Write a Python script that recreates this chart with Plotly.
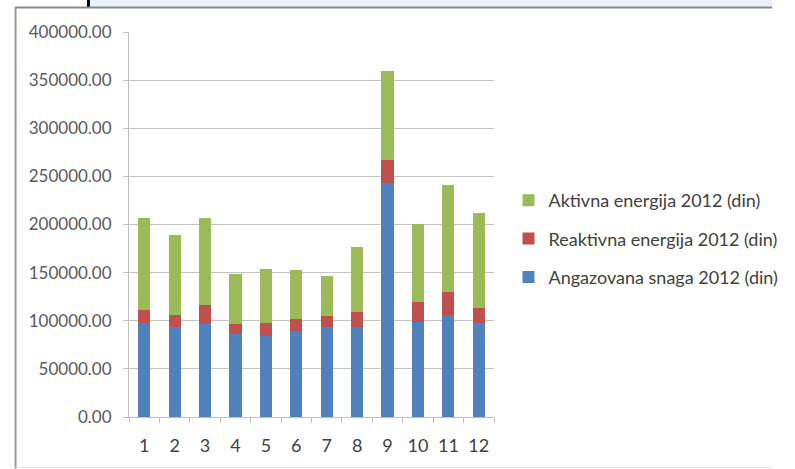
import plotly.graph_objects as go

months = ["1", "2", "3", "4", "5", "6", "7", "8", "9", "10", "11", "12"]
angazovana = [97300, 93000, 97000, 86000, 84000, 89600, 93000, 93800, 243000, 99000, 106000, 97300]
reaktivna = [13700, 12600, 19700, 11000, 14000, 11800, 12000, 15200, 23700, 20000, 23600, 15700]
aktivna = [96000, 83400, 90300, 51600, 55500, 51400, 41000, 67500, 93300, 81700, 111400, 98500]
y_ticks = [0, 50000, 100000, 150000, 200000, 250000, 300000, 350000, 400000]

W, H = 795, 469
L, R, T, B = 129, 288, 32, 52
pw, ph = W - L - R, H - T - B

def px(x):
    return (x - L) / pw

def py(y):
    return (H - B - y) / ph

fig = go.Figure()
series = [
    ("Angazovana snaga 2012 (din)", angazovana, "#4f81bd", 3),
    ("Reaktivna energija 2012 (din)", reaktivna, "#c0504d", 2),
    ("Aktivna energija 2012 (din)", aktivna, "#9bbb59", 1),
]
for name, vals, col, rank in series:
    fig.add_trace(go.Bar(x=months, y=vals, name=name, marker_color=col,
                         marker_line_width=0, legendgroup=name, legendrank=rank))

shapes = [
    dict(type="rect", xref="paper", yref="paper", x0=px(88), x1=px(W), y0=py(0), y1=py(7),
         fillcolor="#eaf2fc", line_width=0, layer="above"),
    dict(type="line", xref="paper", yref="paper", x0=px(87), x1=px(87), y0=py(0), y1=py(8),
         line=dict(color="#000000", width=3), layer="above"),
    dict(type="line", xref="paper", yref="paper", x0=px(11), x1=px(W), y0=py(7.5), y1=py(7.5),
         line=dict(color="#8a8a8a", width=2), layer="above"),
    dict(type="line", xref="paper", yref="paper", x0=px(11.5), x1=px(11.5), y0=py(7), y1=py(H),
         line=dict(color="#9a9a9a", width=2), layer="above"),
    dict(type="line", xref="paper", yref="paper", x0=px(11), x1=px(W), y0=py(467.5), y1=py(467.5),
         line=dict(color="#e6e6e6", width=1), layer="above"),
]

fig.update_layout(
    width=W, height=H,
    margin=dict(l=L, r=R, t=T, b=B),
    barmode="stack",
    bargap=0.6,
    paper_bgcolor="white",
    plot_bgcolor="white",
    font=dict(family="Lato", size=16, color="#595959"),
    shapes=shapes,
    legend=dict(x=px(522), xanchor="left", y=py(239), yanchor="middle",
                traceorder="grouped", tracegroupgap=12,
                font=dict(family="Lato", size=18, color="#404040"),
                bgcolor="rgba(0,0,0,0)"),
    xaxis=dict(type="category", showgrid=False, showline=True, linecolor="#bfbfbf",
               linewidth=1, ticks="outside", tickson="boundaries", ticklen=5,
               tickcolor="#bfbfbf", ticklabelstandoff=12,
               tickfont=dict(size=18, color="#404040")),
    yaxis=dict(range=[0, 400000], tickvals=y_ticks, tickformat=".2f",
               showgrid=True, gridcolor="#c4c4c4", gridwidth=1,
               showline=True, linecolor="#bfbfbf", ticks="outside", ticklen=5,
               tickcolor="#bfbfbf", ticklabelstandoff=8,
               tickfont=dict(size=17, color="#595959"),
               zeroline=False),
)

fig.write_html("out.html", config={"displayModeBar": False},
               post_script="document.body.style.margin='0';document.body.style.overflow='hidden';")
